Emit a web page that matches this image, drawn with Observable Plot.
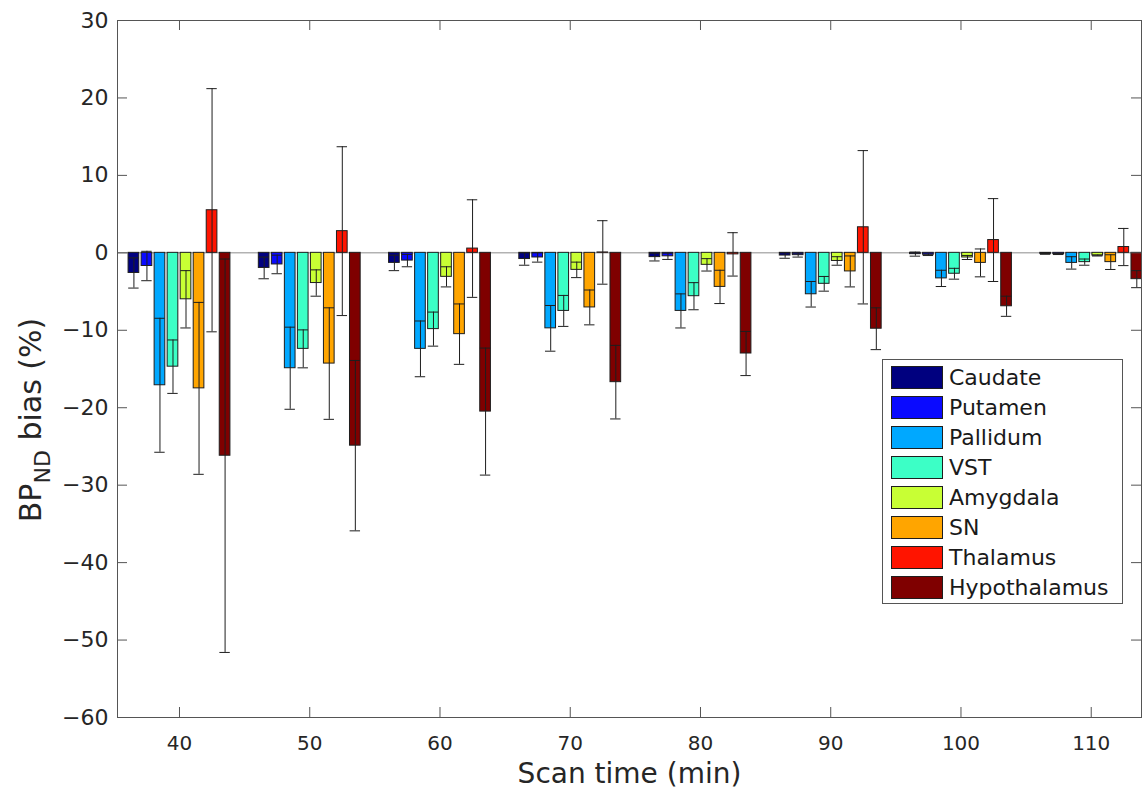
<!DOCTYPE html>
<html><head><meta charset="utf-8">
<script src="https://cdn.jsdelivr.net/npm/d3@7"></script>
<script src="https://cdn.jsdelivr.net/npm/@observablehq/plot@0.6"></script>
<style>body{margin:0;background:#fff}</style>
</head><body><div id="chart"></div>
<script>
const times = [40, 50, 60, 70, 80, 90, 100, 110];
const regions = ["Caudate", "Putamen", "Pallidum", "VST", "Amygdala", "SN", "Thalamus", "Hypothalamus"];
const regionColors = ["#00007f", "#0a0aff", "#00a8ff", "#3cffc6", "#c8ff34", "#ffa500", "#ff1400", "#7f0000"];

const caudateMean = [-2.6, -1.95, -1.3, -0.8, -0.55, -0.35, -0.17, -0.13];
const caudateErr = [1.95, 1.4, 1.0, 0.8, 0.5, 0.35, 0.26, 0.06];
const putamenMean = [-1.7, -1.5, -1.0, -0.6, -0.45, -0.3, -0.25, -0.17];
const putamenErr = [1.9, 1.2, 0.8, 0.6, 0.4, 0.25, 0.1, 0.05];
const pallidumMean = [-17.1, -14.9, -12.4, -9.75, -7.5, -5.35, -3.3, -1.3];
const pallidumErr = [8.65, 5.3, 3.6, 2.95, 2.2, 1.65, 1.05, 0.8];
const vstMean = [-14.7, -12.4, -9.85, -7.5, -5.6, -4.0, -2.7, -1.2];
const vstErr = [3.45, 2.45, 2.2, 2.0, 1.75, 0.95, 0.7, 0.4];
const amygdalaMean = [-6.0, -3.9, -3.1, -2.2, -1.55, -1.05, -0.6, -0.35];
const amygdalaErr = [3.7, 1.7, 1.3, 1.0, 0.8, 0.55, 0.26, 0.06];
const snMean = [-17.5, -14.3, -10.5, -7.05, -4.4, -2.4, -1.3, -1.2];
const snErr = [11.1, 7.2, 3.9, 2.25, 2.15, 2.0, 1.8, 0.95];
const thalamusMean = [5.5, 2.8, 0.55, 0.05, -0.2, 3.3, 1.65, 0.75];
const thalamusErr = [15.7, 10.9, 6.3, 4.1, 2.8, 9.9, 5.35, 2.4];
const hypothalamusMean = [-26.2, -24.9, -20.5, -16.7, -13.0, -9.8, -6.9, -3.4];
const hypothalamusErr = [25.4, 11.0, 8.2, 4.75, 2.85, 2.7, 1.3, 1.1];

const yTicks = [30, 20, 10, 0, -10, -20, -30, -40, -50, -60];
const xTicks = [40, 50, 60, 70, 80, 90, 100, 110];

const means = [caudateMean, putamenMean, pallidumMean, vstMean, amygdalaMean, snMean, thalamusMean, hypothalamusMean];
const errs = [caudateErr, putamenErr, pallidumErr, vstErr, amygdalaErr, snErr, thalamusErr, hypothalamusErr];
const rows = [];
regions.forEach((r, i) => times.forEach((t, j) => rows.push({region: r, idx: i, time: t, mean: means[i][j], err: errs[i][j]})));

const W = 1142, H = 792, mL = 117, mR = 1, mT = 20, mB = 75;
const plotW = W - mL - mR, plotH = H - mT - mB;
const slot = 1.0, barW = 0.82, capW = 0.8, tickLen = 10;
const center = d => d.time + (d.idx - 3.5) * slot;
const font = "DejaVu Sans, sans-serif";
const ink = "#1e1e1e", axisInk = "#555";

const chart = Plot.plot({
  width: W, height: H,
  marginLeft: mL, marginRight: mR, marginTop: mT, marginBottom: mB,
  style: {fontFamily: font, background: "white", color: "#262626"},
  x: {domain: [35.24, 113.86]},
  y: {domain: [-60, 30]},
  color: {domain: regions, range: regionColors},
  marks: [
    Plot.ruleY([0], {stroke: "#8c8c8c"}),
    Plot.rect(rows, {x1: d => center(d) - barW / 2, x2: d => center(d) + barW / 2, y1: 0, y2: "mean", fill: "region", stroke: ink, strokeWidth: 1}),
    Plot.ruleX(rows, {x: center, y1: d => d.mean - d.err, y2: d => d.mean + d.err, stroke: ink, strokeWidth: 1}),
    Plot.ruleY(rows, {x1: d => center(d) - capW / 2, x2: d => center(d) + capW / 2, y: d => d.mean - d.err, stroke: ink, strokeWidth: 1}),
    Plot.ruleY(rows, {x1: d => center(d) - capW / 2, x2: d => center(d) + capW / 2, y: d => d.mean + d.err, stroke: ink, strokeWidth: 1}),
    Plot.frame({stroke: axisInk}),
    Plot.tickY(yTicks, {y: d => d, insetRight: plotW - tickLen, stroke: axisInk}),
    Plot.tickY(yTicks, {y: d => d, insetLeft: plotW - tickLen, stroke: axisInk}),
    Plot.tickX(xTicks, {x: d => d, insetTop: plotH - tickLen, stroke: axisInk}),
    Plot.tickX(xTicks, {x: d => d, insetBottom: plotH - tickLen, stroke: axisInk}),
    Plot.axisY({ticks: yTicks, tickSize: 0, tickPadding: 9, fontSize: 22, label: null}),
    Plot.axisX({ticks: xTicks, tickSize: 0, tickPadding: 18, fontSize: 20, label: null}),
    Plot.text(["Scan time (min)"], {frameAnchor: "bottom", lineAnchor: "middle", dy: 57, fontSize: 28, fill: "#262626"})
  ]
});

document.getElementById("chart").appendChild(chart);

const svg = d3.select(chart);
const color = chart.scale("color");
const yl = svg.append("text")
  .attr("transform", "translate(41,420) rotate(-90)")
  .attr("text-anchor", "middle")
  .attr("font-family", font)
  .attr("font-size", 30)
  .attr("fill", "#262626");
yl.append("tspan").text("BP");
yl.append("tspan").attr("dy", 9).attr("font-size", 22).text("ND");
yl.append("tspan").attr("dy", -9).text(" bias (%)");

const lg = svg.append("g").attr("font-family", font).attr("font-size", 22).attr("fill", "#1a1a1a").attr("text-anchor", "start");
lg.append("rect").attr("x", 882.5).attr("y", 359.5).attr("width", 240).attr("height", 244)
  .attr("fill", "white").attr("stroke", axisInk);
regions.forEach((r, i) => {
  lg.append("rect").attr("x", 891.5).attr("y", 366.5 + 30 * i).attr("width", 51).attr("height", 22)
    .attr("fill", color.apply(r)).attr("stroke", ink);
  lg.append("text").attr("x", 949).attr("y", 377 + 30 * i).attr("dy", "0.36em").text(r);
});
</script>
</body></html>
